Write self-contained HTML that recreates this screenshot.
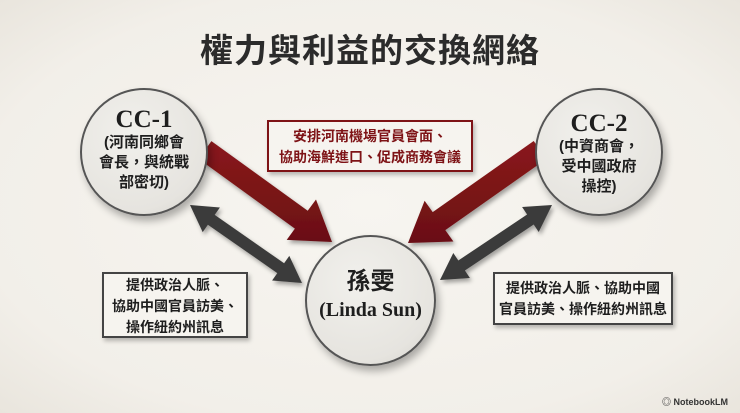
<!DOCTYPE html>
<html><head><meta charset="utf-8"><style>
html,body{margin:0;padding:0}
body{width:740px;height:413px;overflow:hidden;background:radial-gradient(ellipse at center,#f7f5f0 0%,#f2efe9 75%,#e9e5dd 100%);font-family:"Liberation Sans","Noto Sans CJK TC",sans-serif;position:relative}
.t{position:absolute;left:0;width:740px;top:24px;text-align:center;font-size:33px;font-weight:bold;color:#2b2b2b;letter-spacing:1px}
.c{position:absolute;border-radius:50%;border:2px solid #555;background:radial-gradient(circle at 40% 35%,#f1f0ec 0%,#e6e4df 70%,#d2d0cb 100%);box-shadow:3px 5px 8px rgba(0,0,0,.3);text-align:center;color:#1e1e1e;box-sizing:border-box}
.big{font-family:"Liberation Serif","Noto Serif CJK SC",serif;font-weight:bold;font-size:25px;line-height:27px}
.sm{font-size:15px;font-weight:bold;line-height:20px}
.b{position:absolute;background:#f6f4ef;box-sizing:border-box;text-align:center;font-weight:bold;font-size:14px;line-height:21px;box-shadow:2px 3px 4px rgba(0,0,0,.25)}
.wm{position:absolute;right:12px;bottom:5px;font-size:9px;color:#333;font-weight:bold}
</style></head><body>
<div class="t">權力與利益的交換網絡</div>
<svg width="740" height="413" style="position:absolute;left:0;top:0">
<defs><filter id="s"><feDropShadow dx="2" dy="3" stdDeviation="2" flood-opacity=".35"/></filter>
<linearGradient id="r" x1="0" y1="0" x2="0" y2="1"><stop offset="0" stop-color="#8a1a1c"/><stop offset="1" stop-color="#6a0f12"/></linearGradient></defs>
<g filter="url(#s)">
<polygon points="211.4,141.1 307.7,210.8 316,199.5 332,242 286.7,239.9 294.9,228.6 198.6,158.9" fill="url(#r)"/>
<polygon points="533.7,141 432.7,212.1 424.6,200.7 408,243 453.4,241.5 445.3,230.1 546.3,159" fill="url(#r)"/>
<polygon points="190,205 202.7,232.1 207.9,224.7 277.3,273.1 272.1,280.5 302,283 289.3,255.9 284.1,263.3 214.7,214.9 219.9,207.5" fill="#3a3a3a"/>
<polygon points="440,280 469.9,278 464.9,270.5 533.7,224.5 538.7,232 552,205 522.1,207 527.1,214.5 458.3,260.5 453.3,253" fill="#3a3a3a"/>
</g>
</svg>
<div class="c" style="left:80px;top:88px;width:128px;height:128px;padding-top:16px"><div class="big">CC-1</div><div class="sm">(河南同鄉會<br>會長，與統戰<br>部密切)</div></div>
<div class="c" style="left:535px;top:88px;width:128px;height:128px;padding-top:20px"><div class="big">CC-2</div><div class="sm">(中資商會，<br>受中國政府<br>操控)</div></div>
<div class="c" style="left:305px;top:235px;width:131px;height:131px;padding-top:30px"><div style="font-size:24px;font-weight:bold;line-height:30px">孫雯</div><div class="big" style="font-size:20px">(Linda Sun)</div></div>
<div class="b" style="left:267px;top:120px;width:206px;height:52px;border:2px solid #7e1316;color:#7e1316;padding-top:4px">安排河南機場官員會面、<br>協助海鮮進口、促成商務會議</div>
<div class="b" style="left:102px;top:272px;width:146px;height:66px;border:2px solid #444;color:#1e1e1e;padding-top:1px">提供政治人脈、<br>協助中國官員訪美、<br>操作紐約州訊息</div>
<div class="b" style="left:493px;top:272px;width:180px;height:53px;border:2px solid #444;color:#1e1e1e;padding-top:4px">提供政治人脈、協助中國<br>官員訪美、操作紐約州訊息</div>
<div class="wm">◎ NotebookLM</div>
</body></html>
